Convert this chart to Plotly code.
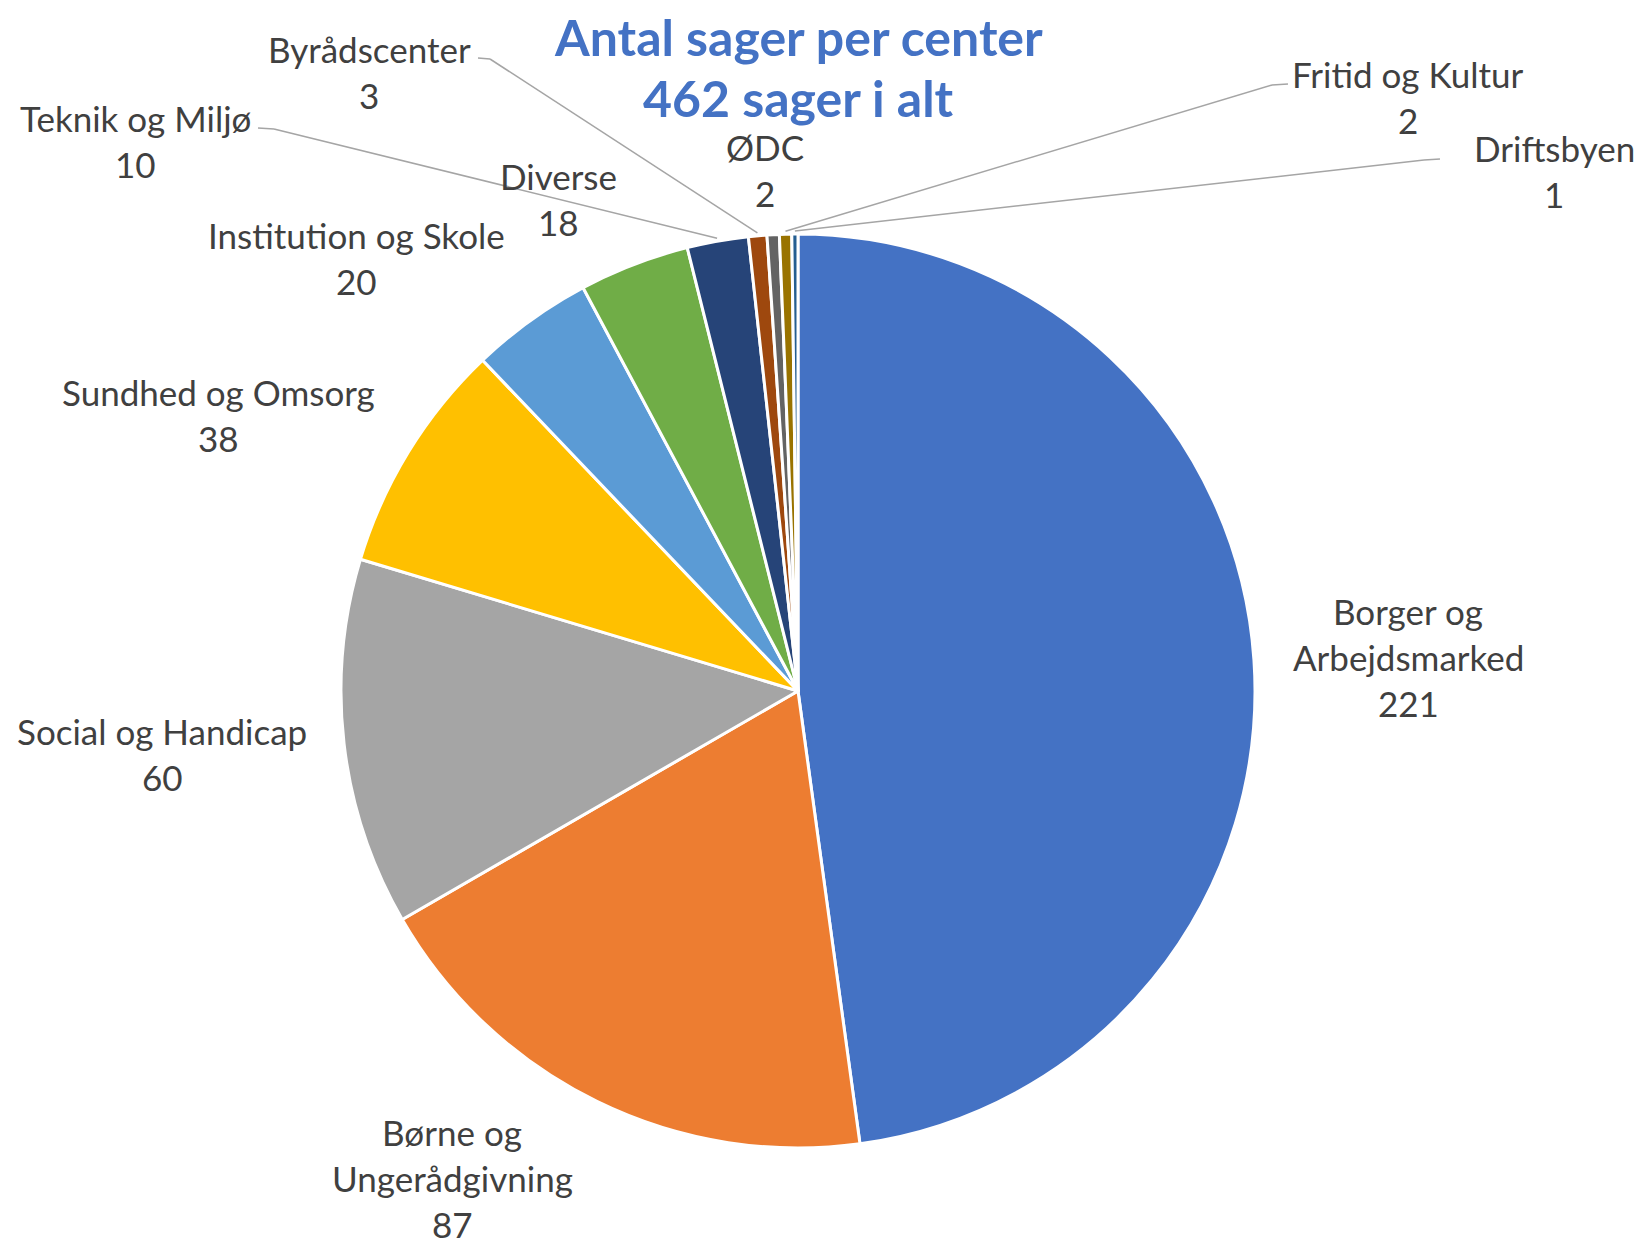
import math
import plotly.graph_objects as go

# data
centers = ["Borger og Arbejdsmarked", "Børne og Ungerådgivning", "Social og Handicap",
           "Sundhed og Omsorg", "Institution og Skole", "Diverse", "Teknik og Miljø",
           "Byrådscenter", "ØDC", "Fritid og Kultur", "Driftsbyen"]
label_lines = [["Borger og", "Arbejdsmarked"], ["Børne og", "Ungerådgivning"],
               ["Social og Handicap"], ["Sundhed og Omsorg"], ["Institution og Skole"],
               ["Diverse"], ["Teknik og Miljø"], ["Byrådscenter"], ["ØDC"],
               ["Fritid og Kultur"], ["Driftsbyen"]]
counts = [221, 87, 60, 38, 20, 18, 10, 3, 2, 2, 1]
colors = ["#4472C4", "#ED7D31", "#A5A5A5", "#FFC000", "#5B9BD5", "#70AD47",
          "#264478", "#9E480E", "#636363", "#997300", "#255E91"]

title_lines = ["Antal sager per center", f"{sum(counts)} sager i alt"]

# page geometry (pixels); the page body adds an 8px offset
OFF = 8
W, H = 1642 - OFF, 1244 - OFF
CX, CY, R = 798, 691, 457
FONT = "Lato, 'Noto Sans', sans-serif"
TXT = "#404040"
LINE_GAP = 46

# label placement: centre x, y of first line, and leader stub start (or None)
label_pos = {
    "Borger og Arbejdsmarked": (1408, 611, None),
    "Børne og Ungerådgivning": (452, 1132, None),
    "Social og Handicap": (162, 731, None),
    "Sundhed og Omsorg": (218, 392, None),
    "Institution og Skole": (356, 235, None),
    "Diverse": (558, 176, None),
    "Teknik og Miljø": (136, 118, (258, 128, 274)),
    "Byrådscenter": (369, 49, (478, 58, 490)),
    "ØDC": (765, 147, None),
    "Fritid og Kultur": (1408, 74, (1288, 84, 1272)),
    "Driftsbyen": (1554, 148, (1440, 159, 1424)),
}


def px(x):
    return (x - OFF) / W


def py(y):
    return 1 - (y - OFF) / H


fig = go.Figure(go.Pie(
    labels=centers,
    values=counts,
    sort=False,
    direction="clockwise",
    rotation=0,
    marker=dict(colors=colors, line=dict(color="white", width=3)),
    textinfo="none",
    hovertemplate="%{label}: %{value}<extra></extra>",
    domain=dict(x=[px(CX - R), px(CX + R)], y=[py(CY + R), py(CY - R)]),
    showlegend=False,
))

annotations = []
shapes = []
total = sum(counts)
cum = 0
for name, lines, val in zip(centers, label_lines, counts):
    mid = (cum + val / 2) / total * 2 * math.pi
    cum += val
    x0, y0, stub = label_pos[name]
    for i, t in enumerate(lines + [str(val)]):
        annotations.append(dict(
            x=px(x0), y=py(y0 + i * LINE_GAP), xref="paper", yref="paper",
            text=t, showarrow=False, xanchor="center", yanchor="middle",
            font=dict(family=FONT, size=35, color=TXT),
        ))
    if stub:
        sx, sy, ex = stub
        # point just outside the slice edge
        px_e = CX + (R + 3) * math.sin(mid)
        py_e = CY - (R + 3) * math.cos(mid)
        for (a, b, c, d) in [(sx, sy, ex, sy + 1), (ex, sy + 1, px_e, py_e)]:
            shapes.append(dict(type="line", xref="paper", yref="paper",
                               x0=px(a), y0=py(b), x1=px(c), y1=py(d),
                               line=dict(color="#A5A5A5", width=1.5)))

for i, t in enumerate(title_lines):
    annotations.append(dict(
        x=px(798), y=py(37 + i * 61), xref="paper", yref="paper",
        text=f"<b>{t}</b>", showarrow=False, xanchor="center", yanchor="middle",
        font=dict(family=FONT, size=50, color="#4472C4"),
    ))

fig.update_layout(
    width=W, height=H,
    margin=dict(l=0, r=0, t=0, b=0),
    paper_bgcolor="white",
    plot_bgcolor="white",
    annotations=annotations,
    shapes=shapes,
)

fig.write_html("out.html")
